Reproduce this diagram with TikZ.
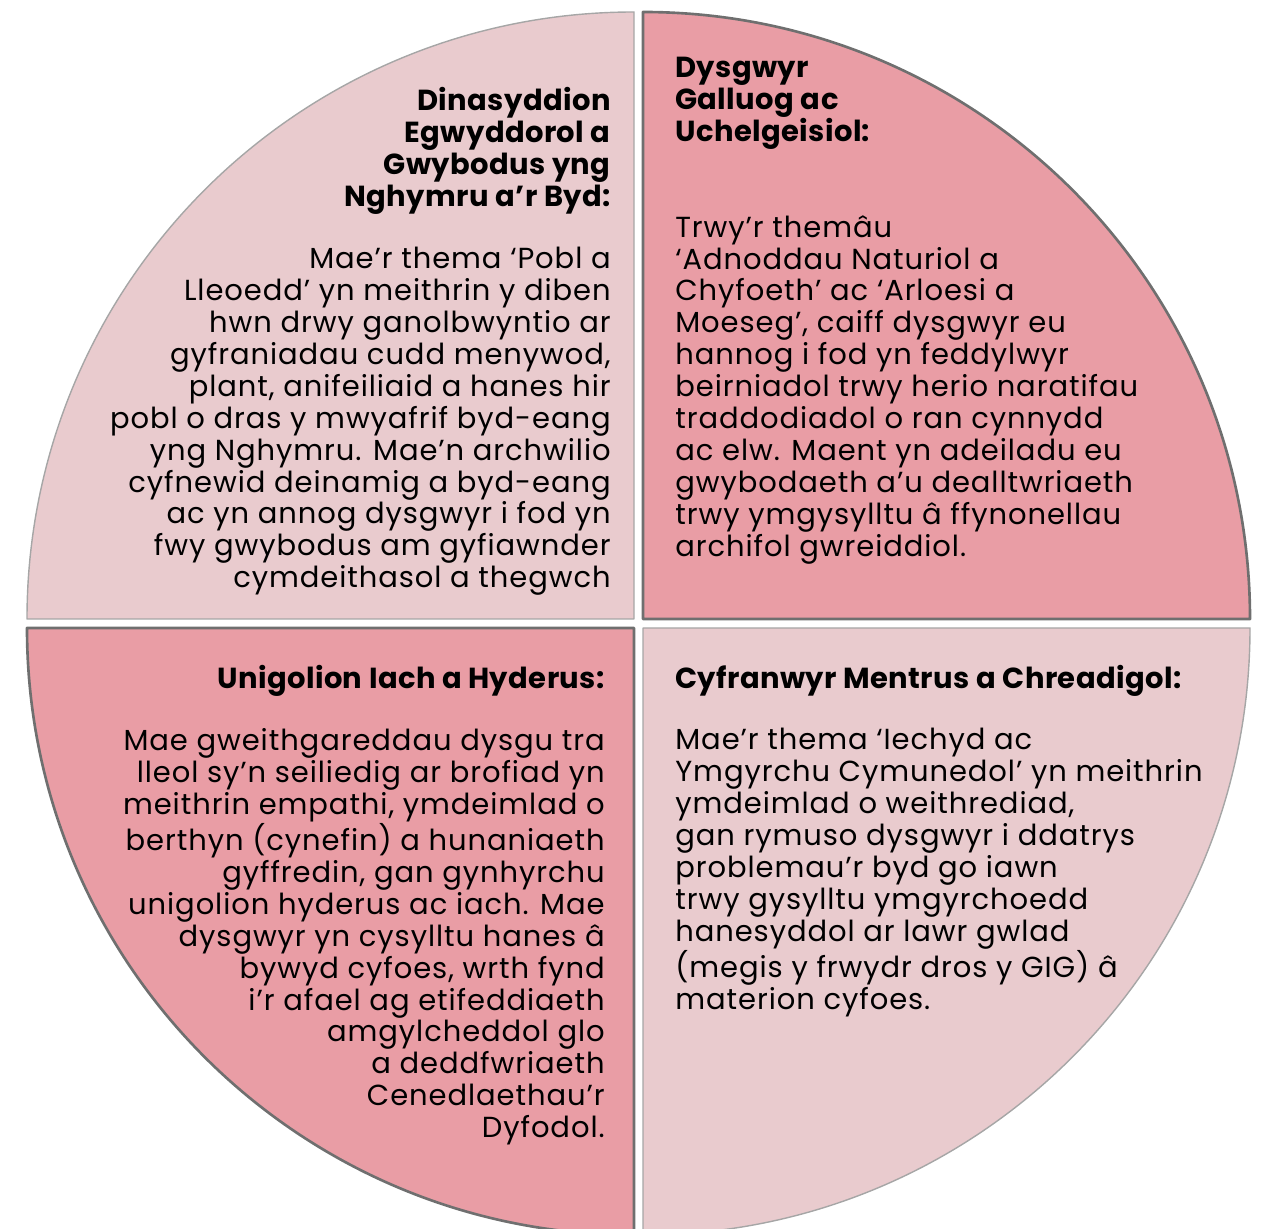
\documentclass[tikz,border=0pt]{standalone}
\usepackage{fontspec}
\setmainfont{Poppins}
\newfontfamily\bodyfont[LetterSpace=3.2]{Poppins}
\newfontfamily\headfont[LetterSpace=1.4]{Poppins}
\usetikzlibrary{positioning}
\definecolor{pinkLight}{HTML}{E9CBCE}
\definecolor{pinkDark}{HTML}{E99DA5}
\definecolor{rimLight}{HTML}{A6A6A6}
\definecolor{rimDark}{HTML}{6F6F6F}

\begin{document}
\begin{tikzpicture}[x=0.02cm,y=0.02cm,
quadLight/.style={fill=pinkLight,draw=rimLight,line width=0.8pt,line join=round},
quadDark/.style={fill=pinkDark,draw=rimDark,line width=1.5pt,line join=round},
headTxt/.style={inner sep=0pt,font=\headfont\fontsize{16.5}{18.15}\selectfont\bfseries},
bodyTxt/.style={inner sep=0pt,font=\bodyfont\fontsize{16.5}{18.15}\selectfont}]
\useasboundingbox (0,0) rectangle (1265,1228);

\path[quadLight] (634,609) -- (27,609) arc[start angle=180,end angle=90,radius=607] -- cycle;
\path[quadDark] (643,609) -- (643,1216) arc[start angle=90,end angle=0,radius=607] -- cycle;
\path[quadDark] (634,600) -- (27,600) arc[start angle=180,end angle=270,radius=607] -- cycle;
\path[quadLight] (643,600) -- (1250,600) arc[start angle=0,end angle=-90,radius=607] -- cycle;

\node[headTxt,anchor=north east,align=right] (tlHead) at (611,1141)
{Dinasyddion\\Egwyddorol a\\Gwybodus yng\\Nghymru a’r Byd:};
\node[bodyTxt,anchor=north east,align=right] (tlBody) at (611,981)
{Mae’r thema ‘Pobl a\\Lleoedd’ yn meithrin y diben\\hwn drwy ganolbwyntio ar\\gyfraniadau cudd menywod,\\plant, anifeiliaid a hanes hir\\pobl o dras y mwyafrif byd-eang\\yng Nghymru. Mae’n archwilio\\cyfnewid deinamig a byd-eang\\ac yn annog dysgwyr i fod yn\\fwy gwybodus am gyfiawnder\\cymdeithasol a thegwch};

\node[headTxt,anchor=north west,align=left] (trHead) at (675,1171)
{Dysgwyr\\Galluog ac\\Uchelgeisiol:};
\node[bodyTxt,anchor=north west,align=left] (trBody) at (675,1013)
{Trwy’r themâu\\‘Adnoddau Naturiol a\\Chyfoeth’ ac ‘Arloesi a\\Moeseg’, caiff dysgwyr eu\\hannog i fod yn feddylwyr\\beirniadol trwy herio naratifau\\traddodiadol o ran cynnydd\\ac elw. Maent yn adeiladu eu\\gwybodaeth a’u dealltwriaeth\\trwy ymgysylltu â ffynonellau\\archifol gwreiddiol.};

\node[headTxt,anchor=north east,align=right] (blHead) at (605,563)
{Unigolion Iach a Hyderus:};
\node[bodyTxt,anchor=north east,align=right] (blBody) at (605,500)
{Mae gweithgareddau dysgu tra\\lleol sy’n seiliedig ar brofiad yn\\meithrin empathi, ymdeimlad o\\berthyn (cynefin) a hunaniaeth\\gyffredin, gan gynhyrchu\\unigolion hyderus ac iach. Mae\\dysgwyr yn cysylltu hanes â\\bywyd cyfoes, wrth fynd\\i’r afael ag etifeddiaeth\\amgylcheddol glo\\a deddfwriaeth\\Cenedlaethau’r\\Dyfodol.};

\node[headTxt,anchor=north west,align=left] (brHead) at (675,563)
{Cyfranwyr Mentrus a Chreadigol:};
\node[bodyTxt,anchor=north west,align=left] (brBody) at (675,500)
{Mae’r thema ‘Iechyd ac\\Ymgyrchu Cymunedol’ yn meithrin\\ymdeimlad o weithrediad,\\gan rymuso dysgwyr i ddatrys\\problemau’r byd go iawn\\trwy gysylltu ymgyrchoedd\\hanesyddol ar lawr gwlad\\(megis y frwydr dros y GIG) â\\materion cyfoes.};
\end{tikzpicture}
\end{document}
